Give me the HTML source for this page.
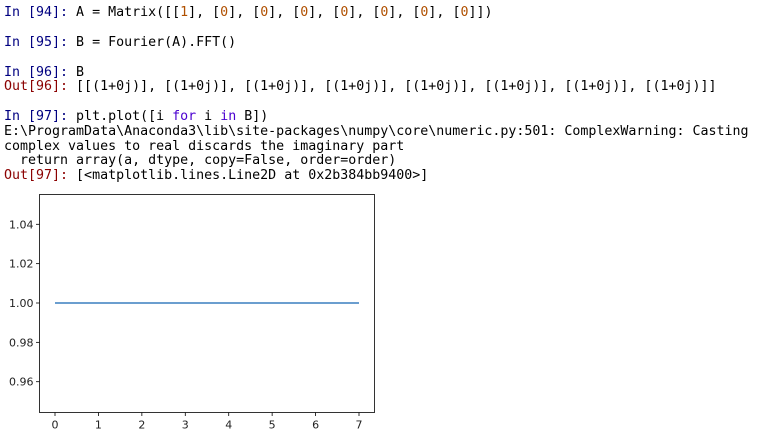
<!DOCTYPE html>
<html><head><meta charset="utf-8"><style>
body{margin:0;width:774px;height:445px;background:#fff;overflow:hidden;position:relative}
.l{position:absolute;left:4px;font-family:"DejaVu Sans Mono","Liberation Mono",monospace;font-size:13.3px;line-height:15px;white-space:pre;color:#000}
.p{color:#000080}.o{color:#8b0000}.n{color:#b05000}.k{color:#4b00d0}
</style></head><body>
<div class="l" style="top:5px"><span class="p">In [94]:</span> A = Matrix([[<span class="n">1</span>], [<span class="n">0</span>], [<span class="n">0</span>], [<span class="n">0</span>], [<span class="n">0</span>], [<span class="n">0</span>], [<span class="n">0</span>], [<span class="n">0</span>]])</div>
<div class="l" style="top:35px"><span class="p">In [95]:</span> B = Fourier(A).FFT()</div>
<div class="l" style="top:65px"><span class="p">In [96]:</span> B</div>
<div class="l" style="top:79px"><span class="o">Out[96]:</span> [[(1+0j)], [(1+0j)], [(1+0j)], [(1+0j)], [(1+0j)], [(1+0j)], [(1+0j)], [(1+0j)]]</div>
<div class="l" style="top:109px"><span class="p">In [97]:</span> plt.plot([i <span class="k">for</span> i <span class="k">in</span> B])</div>
<div class="l" style="top:124px">E:\ProgramData\Anaconda3\lib\site-packages\numpy\core\numeric.py:501: ComplexWarning: Casting</div>
<div class="l" style="top:139px">complex values to real discards the imaginary part</div>
<div class="l" style="top:153px">  return array(a, dtype, copy=False, order=order)</div>
<div class="l" style="top:168px"><span class="o">Out[97]:</span> [&lt;matplotlib.lines.Line2D at 0x2b384bb9400&gt;]</div>
<svg id="chart" style="position:absolute;left:0;top:0" width="774" height="445"></svg>
<script>
const xValues=[0,1,2,3,4,5,6,7];
const yValues=[1,1,1,1,1,1,1,1];
const yTicks=[0.96,0.98,1.00,1.02,1.04];
const yTickLabels=["0.96","0.98","1.00","1.02","1.04"];
const xTicks=[0,1,2,3,4,5,6,7];
const svg=document.getElementById('chart');
const NS='http://www.w3.org/2000/svg';
const L=39.5,R=374.5,T=194.5,B=412.5;
const x=v=>55+(v-0)*(359-55)/7;
const y=v=>303-(v-1.0)*(303-224.3)/0.04;
function mk(t,a){const e=document.createElementNS(NS,t);for(const k in a)e.setAttribute(k,a[k]);svg.appendChild(e);return e;}
const frame=mk('rect',{x:L,y:T,width:R-L,height:B-T,fill:'#fff',stroke:'#000','stroke-width':0.8});


yTicks.forEach((v,i)=>{
  const t=mk('line',{x1:L-3.5,x2:L,y1:y(v),y2:y(v),stroke:'#000','stroke-width':0.8});
  
  
  const tx=mk('text',{x:L-6,y:y(v)+4,'text-anchor':'end','font-family':'DejaVu Sans, Liberation Sans, sans-serif','font-size':'11px',fill:'#222'});
  tx.textContent=yTickLabels[i];
  
  
});
xTicks.forEach(v=>{
  const t=mk('line',{x1:x(v),x2:x(v),y1:B,y2:B+3.5,stroke:'#000','stroke-width':0.8});
  
  
  const tx=mk('text',{x:x(v),y:B+16,'text-anchor':'middle','font-family':'DejaVu Sans, Liberation Sans, sans-serif','font-size':'11px',fill:'#222'});
  tx.textContent=String(v);
  
  
});
const pts=xValues.map((v,i)=>x(v)+','+y(yValues[i])).join(' ');
const pl=mk('polyline',{points:pts,fill:'none',stroke:'#3a7fbf','stroke-width':1.6});


</script>
</body></html>
